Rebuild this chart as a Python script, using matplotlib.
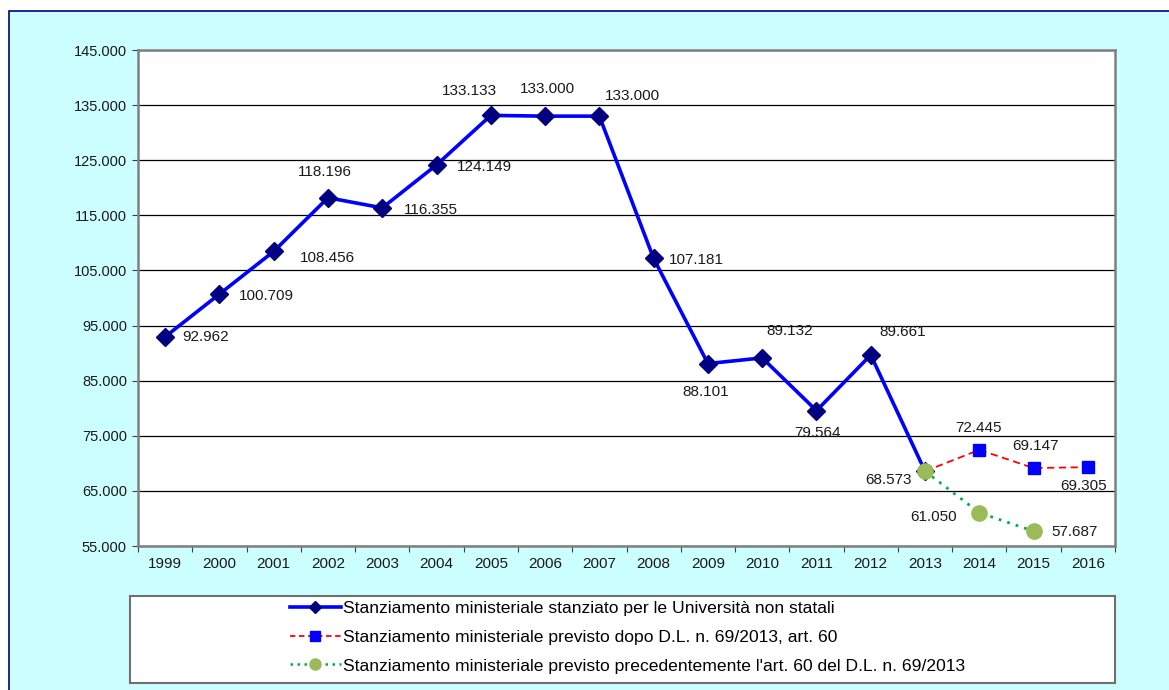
import matplotlib.pyplot as plt
from matplotlib.patches import Rectangle
from matplotlib.lines import Line2D

plt.rcParams['font.family'] = ['Liberation Sans', 'DejaVu Sans']

years = ['1999', '2000', '2001', '2002', '2003', '2004', '2005', '2006', '2007',
         '2008', '2009', '2010', '2011', '2012', '2013', '2014', '2015', '2016']
stanziato = [92962, 100709, 108456, 118196, 116355, 124149, 133133, 133000, 133000,
             107181, 88101, 89132, 79564, 89661, 68573]
dopo_dl = [68573, 72445, 69147, 69305]          # 2013-2016
prima_dl = [68573, 61050, 57687]                # 2013-2015

lbl_main = 'Stanziamento ministeriale stanziato per le Università non statali'
lbl_dopo = 'Stanziamento ministeriale previsto dopo D.L. n. 69/2013, art. 60'
lbl_prima = "Stanziamento ministeriale previsto precedentemente l'art. 60 del D.L. n. 69/2013"

# label offsets in pixels (dx, dy, ha)
off_main = [(17, 0, 'left'), (19, -2, 'left'), (26, -7, 'left'), (-3, 26, 'center'),
            (22, -2, 'left'), (20, -2, 'left'), (-21, 24, 'center'), (2, 27, 'center'),
            (33, 20, 'center'), (15, -2, 'left'), (-2, -28, 'center'), (27, 27, 'center'),
            (1, -22, 'center'), (32, 23, 'center'), (-37, -9, 'center')]
off_dopo = [None, (-1, 22, 'center'), (2, 22, 'center'), (-4, -19, 'center')]
off_prima = [None, (-46, -4, 'center'), (18, -1, 'left')]

def fmt(v):
    return f'{v:,}'.replace(',', '.')

fig = plt.figure(figsize=(11.69, 6.9), dpi=100, facecolor='white')
fig.patches.append(Rectangle((9 / 1169, -0.1), 1.2, 1 - 11 / 690 + 0.1,
                             transform=fig.transFigure, facecolor='#ccffff',
                             edgecolor='#000080', linewidth=1.2, zorder=-10))

ax = fig.add_axes([138 / 1169, 1 - 546 / 690, (1115 - 138) / 1169, (546 - 50) / 690])
ax.set_facecolor('white')

x_main = list(range(len(stanziato)))
x_dopo = list(range(14, 14 + len(dopo_dl)))
x_prima = list(range(14, 14 + len(prima_dl)))

ax.plot(x_main, stanziato, color='#0000ff', lw=2.6, marker='D', ms=9,
        mfc='#000080', mec='#000080', zorder=3)
ax.plot(x_dopo, dopo_dl, color='#ff0000', lw=1.3, ls=(0, (4, 2.5)), zorder=3)
ax.plot(x_dopo[1:], dopo_dl[1:], ls='none', marker='s', ms=8,
        mfc='#0000ff', mec='#0000ff', zorder=4)
ax.plot(x_prima, prima_dl, color='#00b050', lw=2, ls=(0, (1, 2.2)), zorder=3)
ax.plot(x_prima, prima_dl, ls='none', marker='o', ms=11,
        mfc='#9bbb59', mec='#9bbb59', zorder=5)

for xs, vals, offs in [(x_main, stanziato, off_main), (x_dopo, dopo_dl, off_dopo),
                       (x_prima, prima_dl, off_prima)]:
    for x, v, o in zip(xs, vals, offs):
        if o is None:
            continue
        ax.annotate(fmt(v), (x, v), xytext=(o[0], o[1]), textcoords='offset pixels',
                    ha=o[2], va='center', fontsize=11, color='#1a1a1a', zorder=6)

ax.set_xlim(-0.5, 17.5)
ax.set_ylim(55000, 145000)
ax.set_yticks(range(55000, 145001, 10000))
ax.set_yticklabels([fmt(v) for v in range(55000, 145001, 10000)])
ax.set_xticks([i - 0.5 for i in range(len(years) + 1)])
ax.set_xticklabels([])
ax.set_xticks(range(len(years)), minor=True)
ax.set_xticklabels(years, minor=True)
ax.tick_params(axis='x', which='minor', length=0, pad=8, labelsize=11, labelcolor='#1a1a1a')
ax.tick_params(axis='x', which='major', length=4, color='#404040')
ax.tick_params(axis='y', length=4, color='#404040', labelsize=10.5, labelcolor='#1a1a1a', pad=4)
ax.grid(axis='y', color='black', lw=0.9)
ax.set_axisbelow(True)
for s in ax.spines.values():
    s.set_color('#808080')
    s.set_linewidth(1.8)

handles = [
    Line2D([], [], color='#0000ff', lw=2.6, marker='D', ms=6, mfc='#000080', mec='#000080'),
    Line2D([], [], color='#ff0000', lw=1.3, ls=(0, (3, 2)), marker='s', ms=7,
           mfc='#0000ff', mec='#0000ff'),
    Line2D([], [], color='#00b050', lw=1.8, ls=(0, (1, 1.8)), marker='o', ms=8,
           mfc='#9bbb59', mec='#9bbb59'),
]
leg_ax = fig.add_axes([130 / 1169, 1 - 683 / 690, (1115 - 130) / 1169, (683 - 596) / 690])
leg_ax.set_xticks([])
leg_ax.set_yticks([])
leg_ax.set_facecolor('white')
for s in leg_ax.spines.values():
    s.set_color('#707070')
    s.set_linewidth(1.5)
leg = leg_ax.legend(handles, [lbl_main, lbl_dopo, lbl_prima], loc='center left',
                    bbox_to_anchor=(290 / 1169, 1 - 637 / 690),
                    bbox_transform=fig.transFigure, frameon=False, fontsize=12.6,
                    borderpad=0, borderaxespad=0,
                    handlelength=2.9, handletextpad=0.12, labelspacing=0.78)

fig.savefig('out.png', dpi=100, facecolor=fig.get_facecolor())
